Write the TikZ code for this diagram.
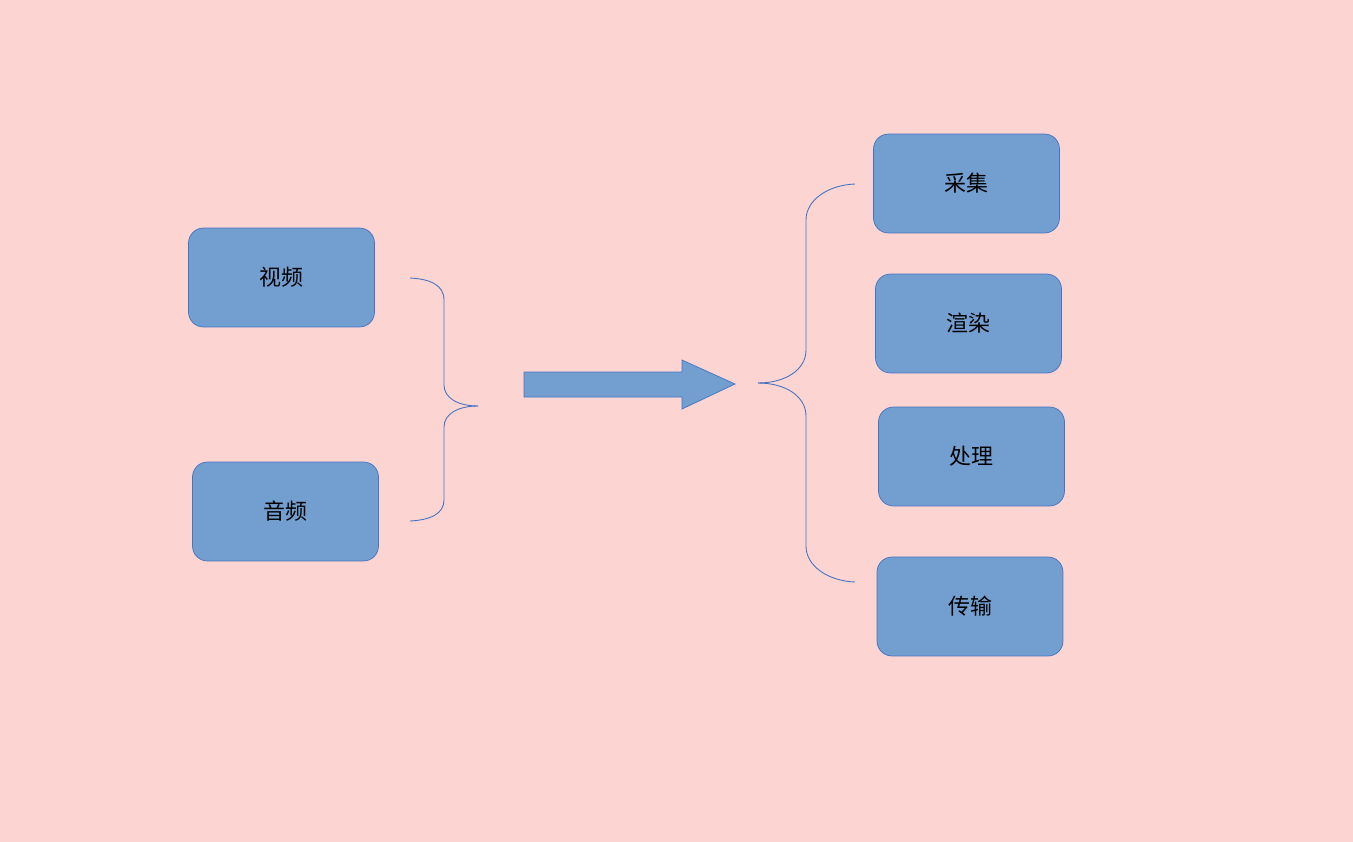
\documentclass[tikz,border=0pt]{standalone}
\usepackage{fontspec}
\newfontfamily\cjk{Noto Sans CJK SC}
\usetikzlibrary{positioning}
\definecolor{bgpink}{RGB}{252,213,210}
\definecolor{boxblue}{RGB}{114,159,207}
\definecolor{lineblue}{RGB}{68,114,196}
\tikzset{
  taskbox/.style={draw=lineblue, fill=boxblue, rounded corners=0.3cm, line width=0.4pt,
    minimum width=3.72cm, minimum height=1.98cm, font=\cjk\fontsize{12.5}{15}\selectfont},
  bracel/.style={draw=lineblue, line width=0.5pt}
}
\begin{document}
\begin{tikzpicture}[x=0.02cm,y=-0.02cm]
		\fill[bgpink] (0,0) rectangle (1353,842);
		% left side
		\node[taskbox] (video) at (281.5,277.5) {视频};
		\node[taskbox] (audio) at (285.5,511.5) {音频};
		\draw[bracel] (410,278) .. controls (430,279) and (444,285) .. (444,300) -- (444,385) .. controls (444,398) and (458,406) .. (478,406);
		\draw[bracel] (410,521) .. controls (430,520) and (444,514) .. (444,500) -- (444,427) .. controls (444,414) and (458,406) .. (478,406);
		% arrow
		\filldraw[draw=lineblue, fill=boxblue, line width=0.4pt] (524,372) -- (682,372) -- (682,360) -- (735,384) -- (682,409) -- (682,397) -- (524,397) -- cycle;
		% right side
		\node[taskbox] (collect) at (966.5,183.5) {采集};
		\node[taskbox] (render) at (968.5,323.5) {渲染};
		\node[taskbox] (process) at (971.5,456.5) {处理};
		\node[taskbox] (trans) at (970,606.5) {传输};
		\draw[bracel] (855,184) .. controls (828,185) and (806,200) .. (806,220) -- (806,350) .. controls (806,370) and (785,383) .. (758,383);
		\draw[bracel] (855,582) .. controls (828,581) and (806,566) .. (806,546) -- (806,416) .. controls (806,396) and (785,383) .. (758,383);
\end{tikzpicture}
\end{document}
